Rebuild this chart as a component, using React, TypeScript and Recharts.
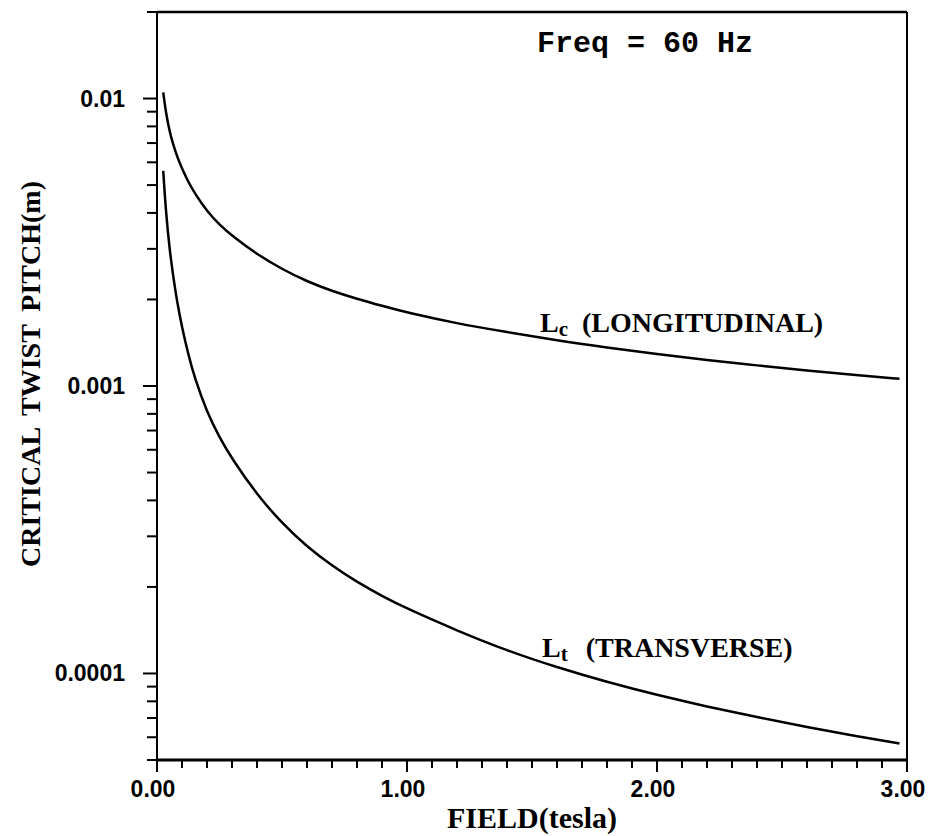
import { LineChart, Line, XAxis, YAxis, ReferenceLine } from 'recharts';

// field values (tesla)
const field = [0.025, 0.035, 0.05, 0.065, 0.08, 0.1, 0.125, 0.15, 0.2, 0.25, 0.3, 0.4, 0.5, 0.6, 0.7, 0.8, 0.9, 1.0, 1.2, 1.4, 1.6, 1.8, 2.0, 2.2, 2.4, 2.6, 2.8, 2.97];

// Lc (longitudinal) critical twist pitch, m
const lcValues = [0.0105, 0.0090, 0.0077, 0.0069, 0.0063, 0.0057, 0.00513, 0.0047, 0.00405, 0.00364, 0.00333, 0.00287, 0.00255, 0.00231, 0.00214, 0.00201, 0.0019, 0.0018, 0.00165, 0.00154, 0.00144, 0.00136, 0.00129, 0.00123, 0.00118, 0.00113, 0.00109, 0.00106];

// Lt (transverse) critical twist pitch, m
const ltValues = [0.0056, 0.0041, 0.0030, 0.0024, 0.00197, 0.0016, 0.00129, 0.00107, 0.00081, 0.000662, 0.000558, 0.000419, 0.000333, 0.000276, 0.000237, 0.000208, 0.000186, 0.000168, 0.000141, 0.00012, 0.000105, 0.0000933, 0.0000841, 0.0000767, 0.0000705, 0.000065, 0.0000605, 0.0000571];

const xMajorTicks = [0, 1, 2, 3];
const xTickLabels = ['0.00', '1.00', '2.00', '3.00'];
const xMinorTicks = Array.from({ length: 31 }, (_, i) => i / 10);

const yMajorTicks = [0.0001, 0.001, 0.01];
const yTickLabels = ['0.0001', '0.001', '0.01'];
const yMinorTicks = [
  0.00005, 0.00006, 0.00007, 0.00008, 0.00009,
  0.0002, 0.0003, 0.0004, 0.0005, 0.0006, 0.0007, 0.0008, 0.0009,
  0.002, 0.003, 0.004, 0.005, 0.006, 0.007, 0.008, 0.009,
  0.02,
];

const data = field.map((f, i) => ({ field: f, lc: lcValues[i], lt: ltValues[i] }));

const sansBold = { fontFamily: '"Liberation Sans", Arial, sans-serif', fontWeight: 700, fontSize: 23, fill: '#000' };
const serifBold = { fontFamily: '"Liberation Serif", "Times New Roman", serif', fontWeight: 700, fill: '#000' };

function XTick({ x, y, payload }: any) {
  const v = payload.value;
  const idx = xMajorTicks.indexOf(v);
  const major = idx >= 0;
  return (
    <g>
      <line x1={x} x2={x} y1={y} y2={y + (major ? 12 : 8)} stroke="#000" strokeWidth={2} />
      {major && (
        <text x={x - 4} y={y + 29} textAnchor="middle" dominantBaseline="central" {...sansBold}>
          {xTickLabels[idx]}
        </text>
      )}
    </g>
  );
}

function YTick({ x, y, payload }: any) {
  const v = payload.value;
  const idx = yMajorTicks.indexOf(v);
  const major = idx >= 0;
  return (
    <g>
      <line x1={x} x2={x - (major ? 14 : 10)} y1={y} y2={y} stroke="#000" strokeWidth={2} />
      {major && (
        <text x={x - 32} y={y} textAnchor="end" dominantBaseline="central" {...sansBold}>
          {yTickLabels[idx]}
        </text>
      )}
    </g>
  );
}

export default function App() {
  return (
    <div style={{ position: 'absolute', left: 0, top: 0, width: 932, height: 836, background: '#fff' }}>
      <LineChart width={932} height={836} data={data} margin={{ top: 12, right: 25, bottom: 0, left: 0 }}>
        <XAxis
          dataKey="field"
          type="number"
          domain={[0, 3]}
          ticks={xMinorTicks}
          interval={0}
          height={76}
          tickSize={0}
          tickMargin={0}
          tickLine={false}
          tick={<XTick />}
          axisLine={{ stroke: '#000', strokeWidth: 3 }}
        />
        <YAxis
          type="number"
          scale="log"
          domain={[0.00005, 0.02]}
          allowDataOverflow
          ticks={[...yMinorTicks, ...yMajorTicks].sort((a, b) => a - b)}
          interval={0}
          width={157}
          tickSize={0}
          tickMargin={0}
          tickLine={false}
          tick={<YTick />}
          axisLine={{ stroke: '#000', strokeWidth: 2 }}
        />
        <ReferenceLine y={0.02} stroke="#000" strokeWidth={2.5} ifOverflow="visible" />
        <ReferenceLine x={3} stroke="#000" strokeWidth={2} ifOverflow="visible" />
        <Line type="basis" dataKey="lc" stroke="#000" strokeWidth={2.5} dot={false} isAnimationActive={false} />
        <Line type="basis" dataKey="lt" stroke="#000" strokeWidth={2.5} dot={false} isAnimationActive={false} />

        <text x={537} y={52} fontFamily='"Liberation Mono", monospace' fontWeight={700} fontSize={30} fill="#000" xmlSpace="preserve">
          Freq = 60 Hz
        </text>
        <text x={540} y={332} {...serifBold} fontSize={28}>
          L<tspan fontSize={21} dy={4}>c</tspan>
          <tspan dy={-4} dx={14}>(LONGITUDINAL)</tspan>
        </text>
        <text x={542} y={657} {...serifBold} fontSize={28}>
          L<tspan fontSize={21} dy={4}>t</tspan>
          <tspan dy={-4} dx={18}>(TRANSVERSE)</tspan>
        </text>
        <text x={532} y={828} textAnchor="middle" {...serifBold} fontSize={30}>
          FIELD(tesla)
        </text>
        <text
          x={30}
          y={374}
          textAnchor="middle"
          dominantBaseline="central"
          transform="rotate(-90 30 374)"
          {...serifBold}
          fontSize={28}
          wordSpacing={6}
        >
          CRITICAL TWIST PITCH(m)
        </text>
      </LineChart>
    </div>
  );
}
